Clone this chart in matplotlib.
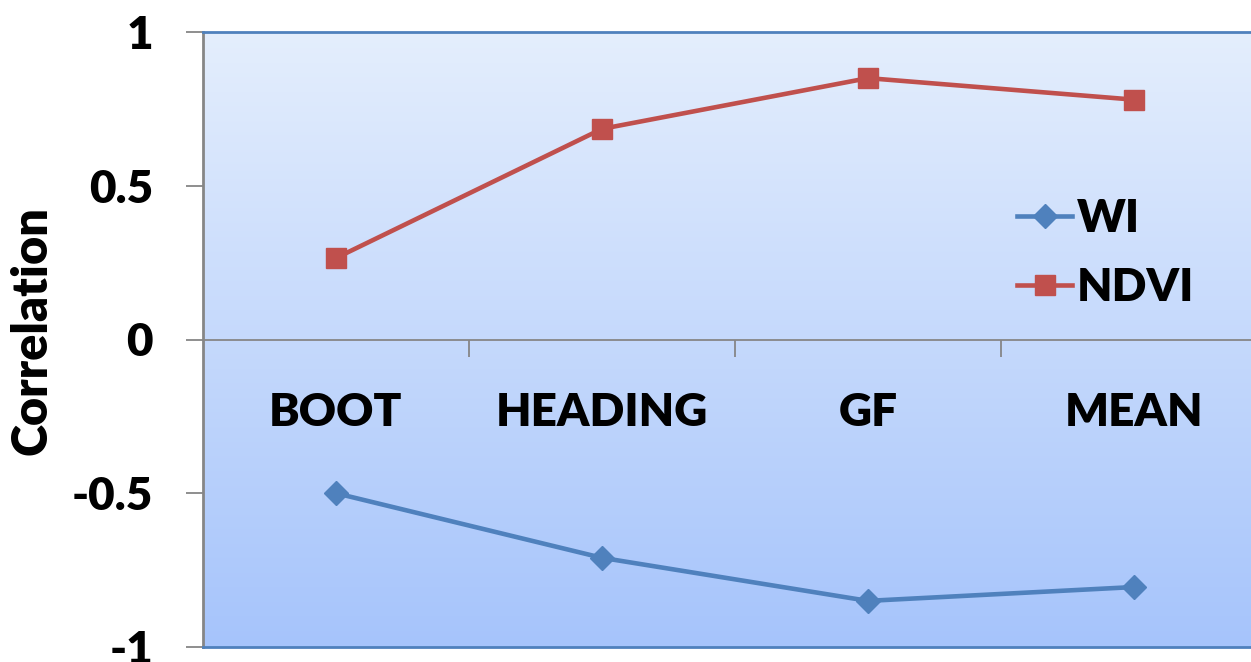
import numpy as np
import matplotlib
matplotlib.use("Agg")
import matplotlib.pyplot as plt
from matplotlib.colors import LinearSegmentedColormap

plt.rcParams['font.family'] = ['Lato', 'DejaVu Sans']
plt.rcParams['font.weight'] = 'heavy'

categories = ["BOOT", "HEADING", "GF", "MEAN"]
wi_values = [-0.50, -0.71, -0.85, -0.805]
ndvi_values = [0.265, 0.685, 0.85, 0.78]
y_ticks = [-1, -0.5, 0, 0.5, 1]
y_tick_labels = ["-1", "-0.5", "0", "0.5", "1"]

blue = "#4f81bd"
red = "#c0504d"
gray = "#868686"
weight = "heavy"

fig = plt.figure(figsize=(12.51, 6.62), dpi=100)
ax = fig.add_axes([203 / 1251, 15 / 662, 1064 / 1251, 615 / 662])

# gradient plot-area fill
cmap = LinearSegmentedColormap.from_list("bg", ["#a6c4fb", "#e4eefd"])
grad = np.linspace(0, 1, 256).reshape(-1, 1)
ax.imshow(grad, cmap=cmap, aspect="auto", extent=[0, 1, 0, 1],
          transform=ax.transAxes, origin="lower", zorder=0)

x = np.arange(len(categories))
ax.plot(x, wi_values, color=blue, lw=3.3, marker="D", ms=12, label="WI", zorder=3)
ax.plot(x, ndvi_values, color=red, lw=3.3, marker="s", ms=14.5, label="NDVI", zorder=3)

ax.set_xlim(-0.5, len(categories) - 0.5)
ax.set_ylim(-1, 1)

# y axis
ax.set_yticks(y_ticks)
ax.set_yticklabels(y_tick_labels, fontsize=33, fontweight=weight)
ax.tick_params(axis="y", direction="out", length=12, width=1.3, color=gray, pad=24)

# horizontal axis line through zero, with boundary ticks
ax.spines["bottom"].set_position(("data", 0))
ax.spines["bottom"].set_color(gray)
ax.spines["bottom"].set_linewidth(1.3)
ax.set_xticks(x[:-1] + 0.5)
ax.set_xticklabels([])
ax.tick_params(axis="x", which="major", direction="out", length=12, width=1.3, color=gray)
ax.set_xticks(x, minor=True)
ax.set_xticklabels(categories, minor=True, fontsize=33, fontweight=weight)
ax.tick_params(axis="x", which="minor", length=0, pad=38)

ax.spines["left"].set_color(gray)
ax.spines["left"].set_linewidth(2)
ax.spines["right"].set_visible(False)
ax.spines["top"].set_color(blue)
ax.spines["top"].set_linewidth(2)
ax.plot([0, 1], [0, 0], transform=ax.transAxes, color=blue, lw=2, clip_on=False, zorder=4)

fig.text(32 / 1251, 1 - 331 / 662, "Correlation", rotation=90, fontsize=35,
         fontweight=weight, ha="center", va="center")

leg = ax.legend(loc="center left", bbox_to_anchor=(1017 / 1251, 1 - 253 / 662),
                bbox_transform=fig.transFigure, frameon=False,
                borderpad=0, borderaxespad=0,
                handlelength=1.2, handletextpad=0.1, labelspacing=0.6,
                prop={"weight": weight, "size": 33})

fig.savefig("out.png", dpi=100)
